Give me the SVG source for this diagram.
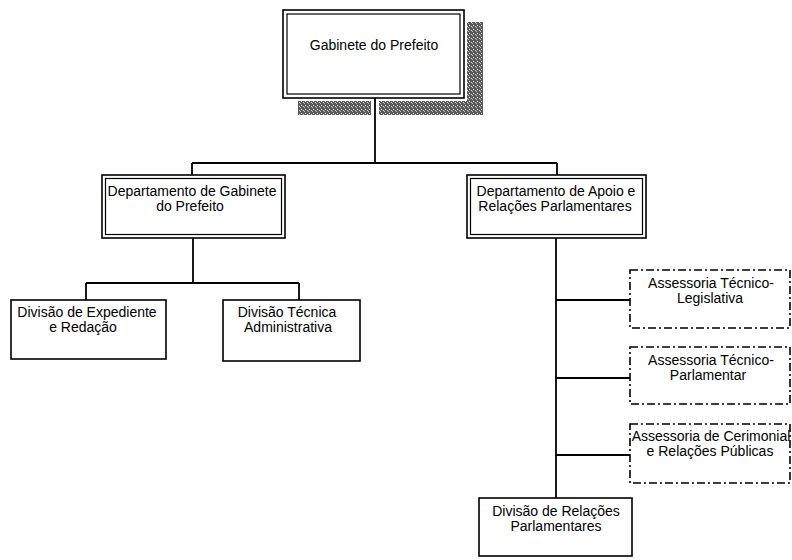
<svg xmlns="http://www.w3.org/2000/svg" width="792" height="560" viewBox="0 0 792 560">
  <defs>
    <pattern id="halftone" width="4" height="4" patternUnits="userSpaceOnUse">
      <rect width="4" height="4" fill="#5a5a5a"/>
      <rect x="1" y="1" width="1" height="1" fill="#ffffff"/>
      <rect x="3" y="2" width="1" height="1" fill="#dddddd"/>
      <rect x="0" y="3" width="1" height="1" fill="#bbbbbb"/>
    </pattern>
  </defs>
  <style>
    .box { fill: #ffffff; stroke: #000000; stroke-width: 1.6; }
    .inner { fill: none; stroke: #000000; stroke-width: 1.2; }
    .dash { fill: #ffffff; stroke: #000000; stroke-width: 1.6; stroke-dasharray: 8 3 2 3; }
    .conn { fill: none; stroke: #000000; stroke-width: 1.8; }
    .lbl { font-family: "Liberation Sans", Arial, sans-serif; font-size: 14px; fill: #000000; text-anchor: middle; }
  </style>
  <rect width="792" height="560" fill="#ffffff"/>

  <g id="node-gabinete">
    <rect x="467" y="22" width="16" height="93" fill="url(#halftone)"/>
    <rect x="298" y="101" width="185" height="14" fill="url(#halftone)"/>
    <rect x="371" y="100" width="8" height="16" fill="#ffffff"/>
    <rect class="box" x="283" y="10" width="181" height="88"/>
    <rect class="inner" x="287" y="14" width="173" height="80"/>
    <text class="lbl" x="374" y="50">Gabinete do Prefeito</text>
  </g>

  <g id="connectors">
    <path class="conn" d="M375 98 V163 M192 163 H557 M192 163 V175 M557 163 V175"/>
    <path class="conn" d="M193 238 V283 M86 283 H299 M86 283 V300 M299 283 V300"/>
    <path class="conn" d="M556 238 V498 M556 300 H630 M556 378 H630 M556 455 H630"/>
  </g>

  <g id="node-dep-gabinete">
    <rect class="box" x="102" y="175" width="183" height="63"/>
    <rect class="inner" x="105.5" y="178.5" width="176" height="56"/>
    <text class="lbl" x="192" y="196">Departamento de Gabinete</text>
    <text class="lbl" x="190" y="211">do Prefeito</text>
  </g>

  <g id="node-dep-apoio">
    <rect class="box" x="467" y="175" width="179" height="63"/>
    <rect class="inner" x="470.5" y="178.5" width="172" height="56"/>
    <text class="lbl" x="556" y="196">Departamento de Apoio e</text>
    <text class="lbl" x="555" y="211">Relações Parlamentares</text>
  </g>

  <g id="node-div-expediente">
    <rect class="box" x="11" y="300" width="155" height="59"/>
    <text class="lbl" x="87" y="317">Divisão de Expediente</text>
    <text class="lbl" x="83" y="332">e Redação</text>
  </g>

  <g id="node-div-tecnica">
    <rect class="box" x="223" y="300" width="137" height="61"/>
    <text class="lbl" x="287" y="317">Divisão Técnica</text>
    <text class="lbl" x="288" y="332">Administrativa</text>
  </g>

  <g id="node-ass-legislativa">
    <rect class="dash" x="630" y="270" width="160" height="58"/>
    <text class="lbl" x="711" y="288">Assessoria Técnico-</text>
    <text class="lbl" x="710" y="303">Legislativa</text>
  </g>

  <g id="node-ass-parlamentar">
    <rect class="dash" x="630" y="347" width="160" height="57"/>
    <text class="lbl" x="711" y="365">Assessoria Técnico-</text>
    <text class="lbl" x="708" y="380">Parlamentar</text>
  </g>

  <g id="node-ass-cerimonial">
    <rect class="dash" x="630" y="424" width="160" height="59"/>
    <text class="lbl" x="711" y="441">Assessoria de Cerimonial</text>
    <text class="lbl" x="710" y="456">e Relações Públicas</text>
  </g>

  <g id="node-div-relacoes">
    <rect class="box" x="479" y="498" width="153" height="58"/>
    <text class="lbl" x="556" y="516">Divisão de Relações</text>
    <text class="lbl" x="556" y="531">Parlamentares</text>
  </g>
</svg>
